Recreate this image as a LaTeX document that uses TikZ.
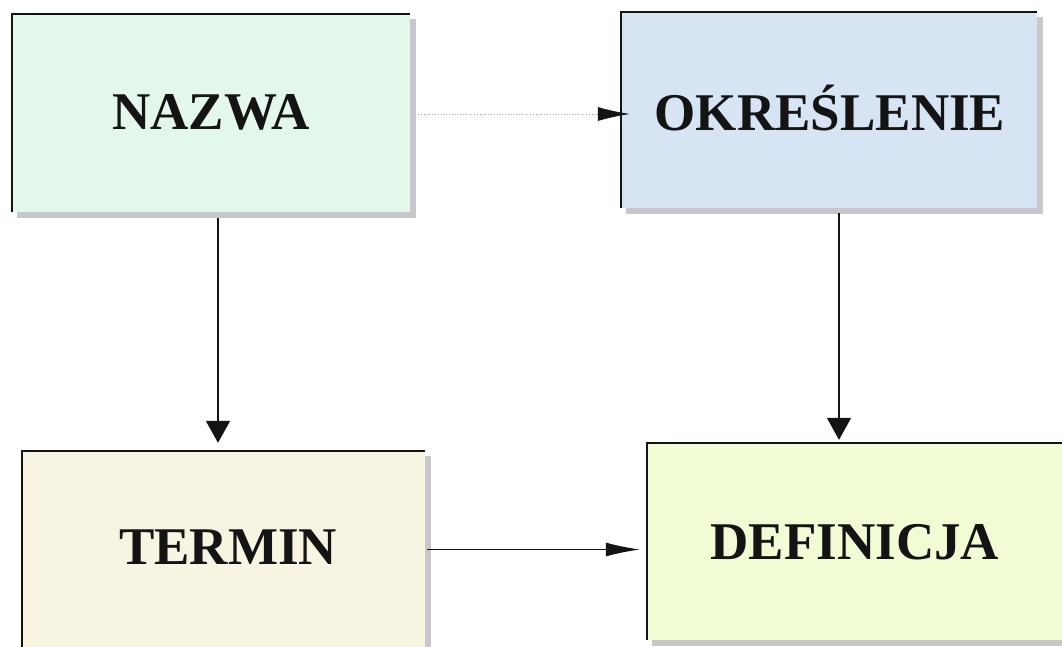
\documentclass[tikz,border=0pt]{standalone}
\usepackage{fontspec}
\setmainfont{Liberation Serif}
\usetikzlibrary{arrows.meta,calc}
\definecolor{cNaz}{HTML}{E3F7EB}
\definecolor{cOkr}{HTML}{D6E4F3}
\definecolor{cTer}{HTML}{F7F4E2}
\definecolor{cDef}{HTML}{F1FBD4}
\definecolor{shd}{HTML}{C8C8CC}
\definecolor{ink}{HTML}{141414}
\tikzset{
  box/.style={rectangle, inner sep=0pt, draw=none},
  shadowbox/.style={fill=shd, draw=none},
  edge/.style={draw=ink, line width=1.8pt},
  label/.style={font=\fontsize{53}{60}\selectfont\bfseries, text=ink, inner sep=0pt, text height=34pt, text depth=0pt},
  harr/.style={draw=ink, line width=1.2pt, -{Latex[length=34pt,width=14pt,color=ink]}},
  varr/.style={draw=ink, line width=1.8pt, -{Triangle[length=22pt,width=24pt,color=ink]}},
  dotarr/.style={draw=gray!70, line width=0.8pt, dotted, -{Latex[length=32pt,width=14pt,color=ink]}},
}
\begin{document}
\begin{tikzpicture}[x=1pt,y=-1pt]
\clip (0,0) rectangle (1062,646);
\fill[white] (0,0) rectangle (1062,646);
% shadows
\fill[shadowbox] (17,19) rectangle (416,218);
\fill[shadowbox] (626,17) rectangle (1043,214);
\fill[shadowbox] (27,456) rectangle (431,660);
\fill[shadowbox] (652,448) rectangle (1085,646);
% boxes
\node[box, fill=cNaz, minimum width=398pt, minimum height=198pt] (nazwa) at (211,113) {};
\node[box, fill=cOkr, minimum width=416pt, minimum height=196pt] (okreslenie) at (829,110) {};
\node[box, fill=cTer, minimum width=403pt, minimum height=197pt] (termin) at (223.5,549.5) {};
\node[box, fill=cDef, minimum width=433pt, minimum height=197pt] (definicja) at (863.5,541.5) {};
% borders (top and left)
\foreach \n in {nazwa,okreslenie,termin,definicja}{
  \draw[edge] (\n.south west) -- (\n.north west) -- (\n.north east);
}
% labels
\node[label] (tnazwa) at (211,112) {NAZWA};
\node[label] (tokreslenie) at (830,113) {OKREŚLENIE};
\node[label] (ttermin) at (228,547) {TERMIN};
\node[label] (tdefinicja) at (855,542) {DEFINICJA};
% connectors
\coordinate (a1) at ([shift={(8,1)}]nazwa.east);
\draw[dotarr] (a1) -- ($(a1 -| okreslenie.west)+(9,0)$);
\coordinate (a2) at ([shift={(7,6)}]nazwa.south);
\draw[varr] (a2) -- ($(a2 |- termin.north)+(0,-8)$);
\coordinate (a3) at ([shift={(10,5)}]okreslenie.south);
\draw[varr] (a3) -- ($(a3 |- definicja.north)+(0,-3)$);
\coordinate (a4) at ([shift={(2,0)}]termin.east);
\draw[harr] (a4) -- ($(a4 -| definicja.west)+(-7,0)$);
\end{tikzpicture}
\end{document}
